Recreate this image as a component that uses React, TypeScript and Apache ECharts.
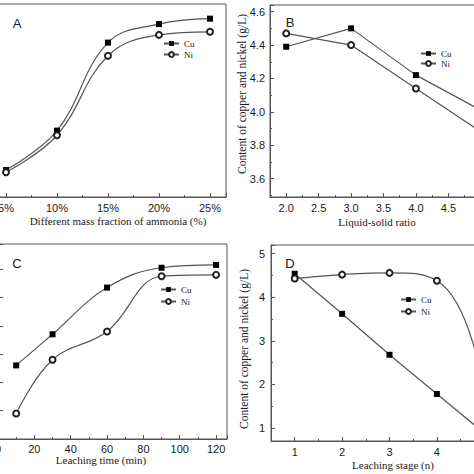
import React, { useEffect, useRef } from 'react';
import * as echarts from 'echarts';

// Panel A: ammonia mass fraction
const ammoniaPct = [5, 10, 15, 20, 25];
const cuAmmonia = [2.85, 3.36, 4.5, 4.74, 4.81];
const niAmmonia = [2.82, 3.3, 4.33, 4.6, 4.64];
// Panel B: liquid-solid ratio
const lsRatio = [2, 3, 4, 5];
const cuRatio = [4.39, 4.5, 4.22, 4.01];
const niRatio = [4.47, 4.4, 4.14, 3.88];
// Panel C: leaching time (min)
const leachTime = [10, 30, 60, 90, 120];
const cuTime = [3.72, 3.94, 4.27, 4.41, 4.43];
const niTime = [3.38, 3.76, 3.96, 4.35, 4.36];
// Panel D: leaching stage (n)
const leachStage = [1, 2, 3, 4, 5];
const cuStage = [4.54, 3.62, 2.68, 1.78, 0.88];
const niStage = [4.43, 4.52, 4.56, 4.38, 1.8];

const seriesNames = ['Cu', 'Ni'];
const yName = 'Content of copper and nickel (g/L)';

const pair = (xs: number[], ys: number[]) => xs.map((x, i) => [x, ys[i]]);

const AX = '#555';
const TXT = '#1a1a1a';
const SANS = 'Liberation Sans';
const SERIF = 'Liberation Serif';

const isMult = (v: number, step: number) => Math.abs(v / step - Math.round(v / step)) < 1e-6;

function axis(extra: any, tickLen = 4, minor = true) {
  return {
    type: 'value',
    axisLine: { show: true, onZero: false, lineStyle: { color: AX, width: 1 } },
    axisTick: { show: true, inside: true, length: tickLen, lineStyle: { color: AX, width: 1 } },
    minorTick: { show: minor, splitNumber: 2, length: 2, lineStyle: { color: AX, width: 1 } },
    splitLine: { show: false },
    minorSplitLine: { show: false },
    ...extra,
    axisLabel: { fontFamily: SANS, fontSize: 11, color: TXT, margin: 5, hideOverlap: false, ...(extra.axisLabel || {}) },
  };
}

function cuSeries(data: number[][], xi: number, smooth: number | boolean) {
  return {
    name: 'Cu', type: 'line', xAxisIndex: xi, yAxisIndex: xi, data, smooth,
    symbol: 'rect', symbolSize: 6,
    itemStyle: { color: '#000' },
    lineStyle: { color: '#555', width: 1.2 },
    z: 3,
  };
}
function niSeries(data: number[][], xi: number, smooth: number | boolean) {
  return {
    name: 'Ni', type: 'line', xAxisIndex: xi, yAxisIndex: xi, data, smooth,
    symbol: 'emptyCircle', symbolSize: 6,
    itemStyle: { color: '#222', borderWidth: 1 },
    lineStyle: { color: '#555', width: 1.2 },
    z: 3,
  };
}

function legend(left: number, top: number, gap: number) {
  return {
    orient: 'vertical', left, top, padding: 0, itemGap: gap,
    itemWidth: 15, itemHeight: 6,
    data: seriesNames,
    textStyle: { fontFamily: SERIF, fontSize: 9, color: TXT },
    selectedMode: false,
  };
}

function txt(text: string, x: number, y: number, font: string, size: number, rot = 0) {
  return {
    type: 'text', x, y, rotation: rot, silent: true,
    style: {
      text, fill: TXT, fontFamily: font, fontSize: size,
      align: 'center', verticalAlign: 'middle',
      textAlign: 'center', textVerticalAlign: 'middle',
    },
  };
}

function grid(left: number, top: number, width: number, height: number) {
  return {
    left, top, width, height, show: true, borderColor: AX, borderWidth: 1,
    containLabel: false, outerBoundsMode: 'none',
  };
}

const option: any = {
  animation: false,
  backgroundColor: '#fff',
  textStyle: { fontFamily: SANS },
  grid: [
    grid(-45, 4, 271, 193),
    grid(270, 5, 227, 192),
    grid(-2, 244, 229, 195),
    grid(271, 245, 237, 196),
  ],
  xAxis: [
    axis({ gridIndex: 0, min: 0, max: 26.57, interval: 5,
      axisLabel: { formatter: (v: number) => (isMult(v, 5) ? v + '%' : '') } }),
    axis({ gridIndex: 1, min: 1.75, max: 5.25, splitNumber: 7,
      axisLabel: { formatter: (v: number) => (isMult(v, 0.5) && v < 4.9 ? v.toFixed(1) : '') } }),
    axis({ gridIndex: 2, min: 0, max: 126, interval: 20,
      axisLabel: { margin: 4, formatter: (v: number) => (isMult(v, 20) ? String(v) : '') } }),
    axis({ gridIndex: 3, min: 0.5, max: 5.5, splitNumber: 5,
      axisLabel: { formatter: (v: number) => (isMult(v, 1) && v < 4.9 ? String(v) : '') } }),
  ],
  yAxis: [
    axis({ gridIndex: 0, min: 2.5, max: 5, axisLabel: { show: false } }),
    axis({ gridIndex: 1, min: 3.49, max: 4.64, splitNumber: 5,
      axisLabel: { formatter: (v: number) => (isMult(v, 0.2) ? v.toFixed(1) : '') } }),
    axis({ gridIndex: 2, min: 3.2, max: 4.578, interval: 0.2, axisLabel: { show: false } }, 5, false),
    axis({ gridIndex: 3, min: 0.7, max: 5.2, splitNumber: 5,
      axisLabel: { margin: 6, formatter: (v: number) => (isMult(v, 1) ? String(v) : '') } }),
  ],
  legend: [
    legend(163, 39, 2),
    legend(420, 49, 1),
    legend(160, 285, 3),
    legend(400, 295, 3),
  ],
  series: [
    cuSeries(pair(ammoniaPct, cuAmmonia), 0, 0.4),
    niSeries(pair(ammoniaPct, niAmmonia), 0, 0.4),
    cuSeries(pair(lsRatio, cuRatio), 1, false),
    niSeries(pair(lsRatio, niRatio), 1, false),
    cuSeries(pair(leachTime, cuTime), 2, 0.4),
    niSeries(pair(leachTime, niTime), 2, 0.4),
    cuSeries(pair(leachStage, cuStage), 3, false),
    niSeries(pair(leachStage, niStage), 3, 0.5),
  ],
  graphic: [
    txt('A', 17, 23, SANS, 13),
    txt('B', 290, 22, SANS, 13),
    txt('C', 17, 263, SANS, 13),
    txt('D', 290, 263, SANS, 13),
    txt('Different mass fraction of ammonia (%)', 118, 221, SERIF, 11),
    txt('Liquid-solid ratio', 377, 222, SERIF, 11),
    txt('Leaching time (min)', 101, 460, SERIF, 11),
    txt('Leaching stage (n)', 393, 465, SERIF, 11),
    txt(yName, 242, 94, SERIF, 11.5, Math.PI / 2),
    txt(yName, 244, 349, SERIF, 11.5, Math.PI / 2),
  ],
};

export default function App() {
  const ref = useRef<HTMLDivElement>(null);
  useEffect(() => {
    document.body.style.margin = '0';
    const chart = echarts.init(ref.current as HTMLDivElement, null, { renderer: 'svg' });
    chart.setOption(option);
    return () => chart.dispose();
  }, []);
  return (
    <div
      ref={ref}
      style={{ width: 474, height: 474, position: 'absolute', left: 0, top: 0, background: '#fff', overflow: 'hidden' }}
    />
  );
}
